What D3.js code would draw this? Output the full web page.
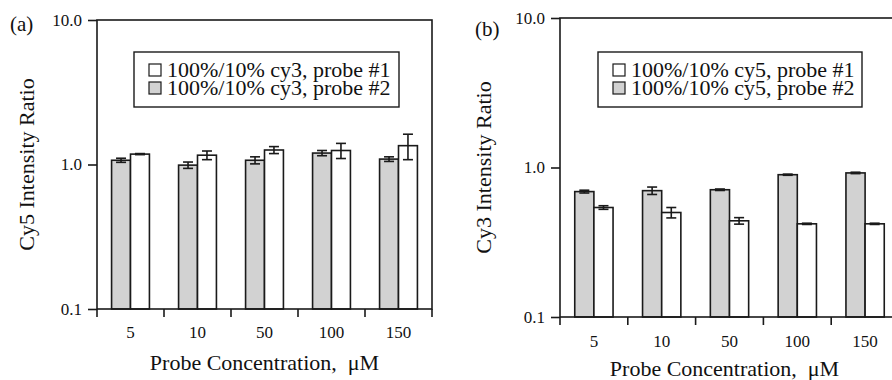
<!DOCTYPE html>
<html>
<head>
<meta charset="utf-8">
<script src="https://cdn.jsdelivr.net/npm/d3@7"></script>
<style>
  html, body { margin: 0; padding: 0; background: #fff; }
  svg { display: block; }
  text { font-family: "Liberation Serif", "Times New Roman", serif; fill: #111; }
</style>
</head>
<body>
<svg id="chart" width="892" height="380"></svg>
<script>
const categories = ['5', '10', '50', '100', '150'];
const yTicks = [0.1, 1, 10];

// panel (a): cy3 ratios
const aProbe1 = [1.18, 1.16, 1.26, 1.25, 1.35];
const aProbe1Err = [0.01, 0.08, 0.07, 0.15, 0.27];
const aProbe2 = [1.07, 0.99, 1.07, 1.2, 1.09];
const aProbe2Err = [0.035, 0.05, 0.06, 0.05, 0.04];
const aLegend = ['100%/10% cy3, probe #1', '100%/10% cy3, probe #2'];

// panel (b): cy5 ratios
const bProbe1 = [0.54, 0.5, 0.44, 0.42, 0.42];
const bProbe1Err = [0.015, 0.04, 0.022, 0.004, 0.004];
const bProbe2 = [0.69, 0.7, 0.71, 0.895, 0.92];
const bProbe2Err = [0.015, 0.04, 0.008, 0.008, 0.01];
const bLegend = ['100%/10% cy5, probe #1', '100%/10% cy5, probe #2'];

const GRAY = '#d2d2d2';
const INK = '#1a1a1a';

const svg = d3.select('#chart');

function drawPanel(p) {
  const x = d3.scaleBand().domain(categories).range([p.left, p.right]).padding(0);
  const y = d3.scaleLog().domain([0.1, 10]).range([p.bottom, p.top]);
  const x1 = d3.scaleBand().domain(['p2', 'p1'])
    .range([0, x.bandwidth()]).paddingInner(0).paddingOuter(0.77);

  const g = svg.append('g');

  // bars: gray (probe #2) then white (probe #1)
  const rows = categories.map((c, i) => [
    { c, key: 'p2', v: p.probe2[i], e: p.probe2Err[i], fill: GRAY },
    { c, key: 'p1', v: p.probe1[i], e: p.probe1Err[i], fill: '#fff' },
  ]).flat();

  g.selectAll('rect.bar')
    .data(rows)
    .join('rect')
    .attr('class', 'bar')
    .attr('x', (d) => x(d.c) + x1(d.key))
    .attr('y', (d) => y(d.v))
    .attr('width', x1.bandwidth())
    .attr('height', (d) => y(0.1) - y(d.v))
    .attr('fill', (d) => d.fill)
    .attr('stroke', INK)
    .attr('stroke-width', 1.6);

  // error bars
  const eb = g.selectAll('g.err').data(rows).join('g').attr('class', 'err')
    .attr('transform', (d) => `translate(${x(d.c) + x1(d.key) + x1.bandwidth() / 2},0)`)
    .attr('stroke', INK).attr('stroke-width', 1.6);
  eb.append('line').attr('y1', (d) => y(d.v - d.e)).attr('y2', (d) => y(d.v + d.e));
  eb.append('line').attr('x1', -5).attr('x2', 5)
    .attr('y1', (d) => y(d.v + d.e)).attr('y2', (d) => y(d.v + d.e));
  eb.append('line').attr('x1', -5).attr('x2', 5)
    .attr('y1', (d) => y(d.v - d.e)).attr('y2', (d) => y(d.v - d.e));

  // frame
  g.append('rect')
    .attr('x', p.left).attr('y', p.top)
    .attr('width', p.right - p.left).attr('height', p.bottom - p.top)
    .attr('fill', 'none').attr('stroke', INK).attr('stroke-width', 1.6);

  // y axis
  const ya = g.append('g')
    .attr('transform', `translate(${p.left},0)`)
    .call(d3.axisLeft(y).tickValues(yTicks).tickFormat(d3.format('.1f')).tickSize(9).tickPadding(6));
  ya.select('.domain').remove();
  ya.selectAll('line').attr('stroke', INK).attr('stroke-width', 1.6);
  ya.selectAll('text').attr('font-size', 17).attr('font-family', 'Liberation Serif').attr('fill', '#111');

  // x axis labels
  const xa = g.append('g')
    .attr('transform', `translate(0,${p.bottom})`)
    .call(d3.axisBottom(x).tickSize(0).tickPadding(p.xPad));
  xa.select('.domain').remove();
  xa.selectAll('text').attr('font-size', 17).attr('font-family', 'Liberation Serif').attr('fill', '#111');

  // boundary ticks
  const bounds = categories.map((c) => x(c)).concat([x.range()[1]]);
  g.selectAll('line.bt').data(bounds).join('line').attr('class', 'bt')
    .attr('x1', (d) => d).attr('x2', (d) => d)
    .attr('y1', p.bottom).attr('y2', p.bottom + 8)
    .attr('stroke', INK).attr('stroke-width', 1.6);

  // titles
  g.append('text')
    .attr('x', (p.left + p.right) / 2 + p.xTitleShift).attr('y', p.xTitleY)
    .attr('text-anchor', 'middle').attr('font-size', 22)
    .style('white-space', 'pre')
    .text('Probe Concentration,  \u03bcM');
  g.append('text')
    .attr('transform', `translate(${p.yTitleX},${(p.top + p.bottom) / 2}) rotate(-90)`)
    .attr('text-anchor', 'middle').attr('font-size', 22)
    .text(p.yTitle);
  g.append('text')
    .attr('x', p.tagX).attr('y', p.tagY).attr('font-size', 21)
    .text(p.tag);

  // legend
  const lg = g.append('g').attr('transform', `translate(${p.legX},52)`);
  lg.append('rect').attr('width', p.legW).attr('height', 55)
    .attr('fill', '#fff').attr('stroke', INK).attr('stroke-width', 1.4);
  const items = [
    { label: p.legend[0], fill: '#fff' },
    { label: p.legend[1], fill: GRAY },
  ];
  const it = lg.selectAll('g.it').data(items).join('g').attr('class', 'it')
    .attr('transform', (d, i) => `translate(15,${18 + i * 18})`);
  it.append('rect').attr('x', 0).attr('y', -6).attr('width', 12).attr('height', 12)
    .attr('fill', (d) => d.fill).attr('stroke', INK).attr('stroke-width', 1.2);
  it.append('text').attr('x', 18).attr('y', 7).attr('font-size', 22)
    .text((d) => d.label);
}

drawPanel({
  left: 97, right: 432, top: 20, bottom: 309,
  probe1: aProbe1, probe1Err: aProbe1Err, probe2: aProbe2, probe2Err: aProbe2Err,
  legend: aLegend, legX: 134, legW: 265,
  yTitle: 'Cy5 Intensity Ratio', yTitleX: 34, xTitleY: 370, xTitleShift: 0, xPad: 17,
  tag: '(a)', tagX: 10, tagY: 31,
});

drawPanel({
  left: 560, right: 899, top: 18, bottom: 317,
  probe1: bProbe1, probe1Err: bProbe1Err, probe2: bProbe2, probe2Err: bProbe2Err,
  legend: bLegend, legX: 598, legW: 264,
  yTitle: 'Cy3 Intensity Ratio', yTitleX: 491, xTitleY: 376, xTitleShift: -5, xPad: 18,
  tag: '(b)', tagX: 475, tagY: 36,
});
</script>
</body>
</html>
